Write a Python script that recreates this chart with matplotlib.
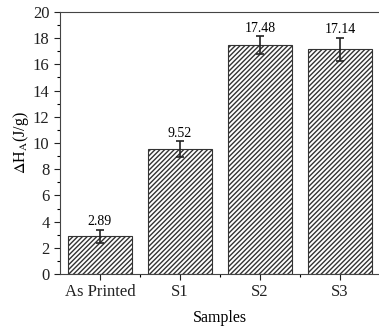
import matplotlib
matplotlib.use("Agg")
import matplotlib.pyplot as plt
from matplotlib.ticker import MultipleLocator, FixedLocator

samples = ["As Printed", "S1", "S2", "S3"]
enthalpy = [2.89, 9.52, 17.48, 17.14]
errors = [0.5, 0.6, 0.7, 0.9]

plt.rcParams['font.family'] = ['Liberation Serif', 'DejaVu Serif']
plt.rcParams['mathtext.fontset'] = 'stix'
plt.rcParams['hatch.linewidth'] = 1.0
plt.rcParams['hatch.color'] = '#3a3a3a'

fig = plt.figure(figsize=(3.79, 3.28), dpi=100)
ax = fig.add_axes([60/379, 1 - 274/328, 320/379, 262/328])

x = list(range(len(samples)))
ax.bar(x, enthalpy, width=0.8, color='white', edgecolor='#333333',
       linewidth=0.8, hatch='///////')
ax.errorbar(x, enthalpy, yerr=errors, fmt='none', ecolor='#222222',
            elinewidth=1.2, capsize=3, capthick=1.2)
for xi, v, e in zip(x, enthalpy, errors):
    ax.text(xi, v + e + 0.1, f"{v:.2f}", ha='center', va='bottom', fontsize=10)

ax.set_xlim(-0.5, 3.5)
ax.set_ylim(0, 20)
ax.set_xticks(x)
ax.set_xticklabels(samples)
ax.xaxis.set_minor_locator(FixedLocator([0.5, 1.5, 2.5]))
ax.yaxis.set_major_locator(MultipleLocator(2))
ax.yaxis.set_minor_locator(MultipleLocator(1))
ax.tick_params(axis='both', which='major', direction='out', length=4, width=0.8,
               labelsize=12, colors='#222222')
ax.tick_params(axis='both', which='minor', direction='out', length=2, width=0.8)
for s in ax.spines.values():
    s.set_linewidth(0.8)
    s.set_color('#444444')

ax.set_xlabel("Samples", fontsize=11.5, labelpad=7)
ax.set_ylabel(r"$\Delta$H$_\mathrm{A}$(J/g)", fontsize=11.5, labelpad=1)

fig.savefig("out.png", dpi=100)
